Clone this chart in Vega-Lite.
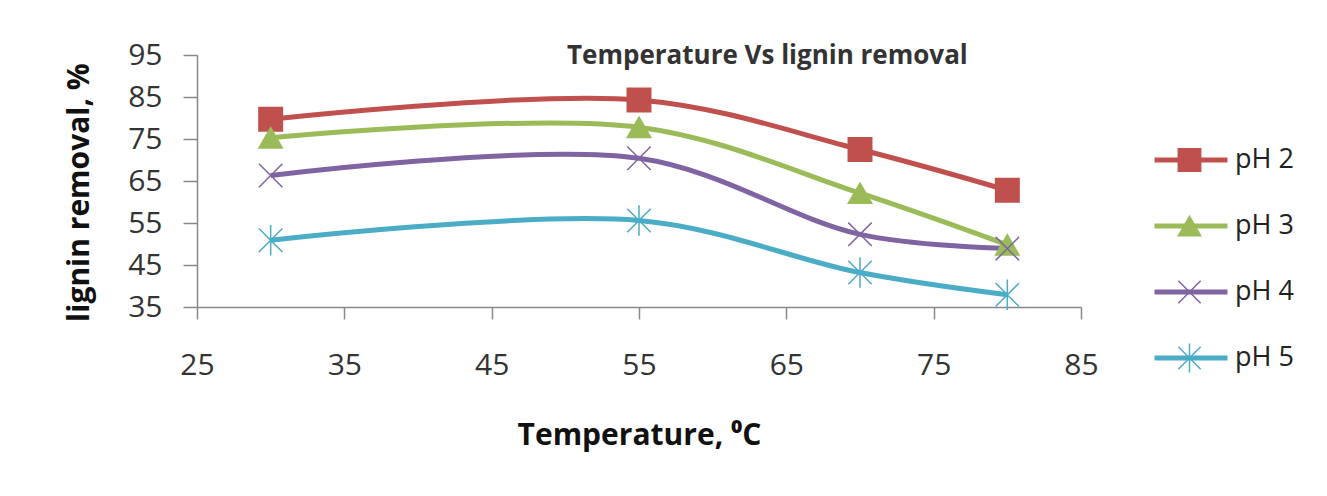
{
  "$schema": "https://vega.github.io/schema/vega-lite/v6.json",
  "width": 884,
  "height": 252,
  "autosize": {"type": "none"},
  "padding": {"left": 197, "top": 55, "right": 246, "bottom": 189},
  "background": "white",
  "config": {
    "view": {"stroke": null},
    "font": "Open Sans",
    "axis": {
      "domainColor": "#888888",
      "domainWidth": 1.5,
      "tickColor": "#888888",
      "tickWidth": 1.5,
      "grid": false,
      "labelFont": "Open Sans",
      "labelFontSize": 30,
      "labelColor": "#333333",
      "titleFont": "Open Sans",
      "titleFontSize": 30,
      "titleFontWeight": "bold",
      "titleColor": "#111111"
    }
  },
  "title": {
    "text": "Temperature Vs lignin removal",
    "anchor": "start",
    "frame": "group",
    "dx": 370,
    "offset": -29,
    "fontSize": 26,
    "fontWeight": "bold",
    "font": "Open Sans",
    "color": "#333333"
  },
  "data": {
    "values": [
      {"temp": 30, "removal": 79.7, "series": "pH 2", "label": "pH 2"},
      {"temp": 55, "removal": 84.3, "series": "pH 2", "label": "pH 2"},
      {"temp": 70, "removal": 72.5, "series": "pH 2", "label": "pH 2"},
      {"temp": 80, "removal": 62.8, "series": "pH 2", "label": "pH 2"},
      {"temp": 30, "removal": 75.3, "series": "pH 3", "label": "pH 3"},
      {"temp": 55, "removal": 77.8, "series": "pH 3", "label": "pH 3"},
      {"temp": 70, "removal": 62.1, "series": "pH 3", "label": "pH 3"},
      {"temp": 80, "removal": 49.8, "series": "pH 3", "label": "pH 3"},
      {"temp": 30, "removal": 66.3, "series": "pH 4", "label": "pH 4"},
      {"temp": 55, "removal": 70.4, "series": "pH 4", "label": "pH 4"},
      {"temp": 70, "removal": 52.3, "series": "pH 4", "label": "pH 4"},
      {"temp": 80, "removal": 48.9, "series": "pH 4", "label": "pH 4"},
      {"temp": 30, "removal": 50.9, "series": "pH 5", "label": "pH 5"},
      {"temp": 55, "removal": 55.6, "series": "pH 5", "label": "pH 5"},
      {"temp": 70, "removal": 43.2, "series": "pH 5", "label": "pH 5"},
      {"temp": 80, "removal": 37.9, "series": "pH 5", "label": "pH 5"}
    ]
  },
  "encoding": {
    "x": {
      "field": "temp",
      "type": "quantitative",
      "scale": {"domain": [25, 85], "nice": false, "zero": false},
      "axis": {
        "values": [25, 35, 45, 55, 65, 75, 85],
        "title": "Temperature,  ⁰C",
        "tickSize": 12,
        "labelFlush": false,
        "labelPadding": 31,
        "titlePadding": 40
      }
    },
    "y": {
      "field": "removal",
      "type": "quantitative",
      "scale": {"domain": [35, 95], "nice": false, "zero": false},
      "axis": {
        "values": [35, 45, 55, 65, 75, 85, 95],
        "title": "lignin removal, %",
        "tickSize": 14,
        "labelFlush": false,
        "labelPadding": 21,
        "titlePadding": 33,
        "titleY": 137
      }
    }
  },
  "layer": [
    {
      "mark": {"type": "line", "interpolate": "catmull-rom", "strokeWidth": 5},
      "encoding": {
        "color": {
          "field": "series",
          "type": "nominal",
          "scale": {"domain": ["pH 2", "pH 3", "pH 4", "pH 5"], "range": ["#C0504D", "#9BBB59", "#8064A2", "#4BACC6"]},
          "legend": {
            "title": null,
            "orient": "none",
            "legendX": 955,
            "legendY": 90,
            "symbolType": "stroke",
            "symbolSize": 5329,
            "symbolStrokeWidth": 5,
            "labelFontSize": 27,
            "labelFont": "Open Sans",
            "labelColor": "#222222",
            "labelOffset": 5,
            "clipHeight": 30,
            "rowPadding": 36
          }
        }
      }
    },
    {
      "mark": {"type": "point", "filled": true, "strokeWidth": 1.5, "size": 550, "opacity": 1},
      "encoding": {
        "shape": {
          "field": "label",
          "type": "nominal",
          "scale": {"range": ["square", "triangle-up", "M-1,-1L1,1M1,-1L-1,1", "M-1,-1L1,1M1,-1L-1,1M0,-1.3L0,1.3"]},
          "legend": {
            "title": null,
            "orient": "none",
            "legendX": 979,
            "legendY": 90,
            "symbolSize": 500,
            "symbolStrokeWidth": 1.5,
            "labelExpr": "''",
            "labelFontSize": 27,
            "clipHeight": 30,
            "rowPadding": 36
          }
        },
        "fill": {
          "field": "label",
          "type": "nominal",
          "scale": {"range": ["#C0504D", "#9BBB59", "transparent", "transparent"]}
        },
        "stroke": {
          "field": "label",
          "type": "nominal",
          "scale": {"range": ["#C0504D", "#9BBB59", "#8064A2", "#4BACC6"]}
        }
      }
    }
  ]
}
